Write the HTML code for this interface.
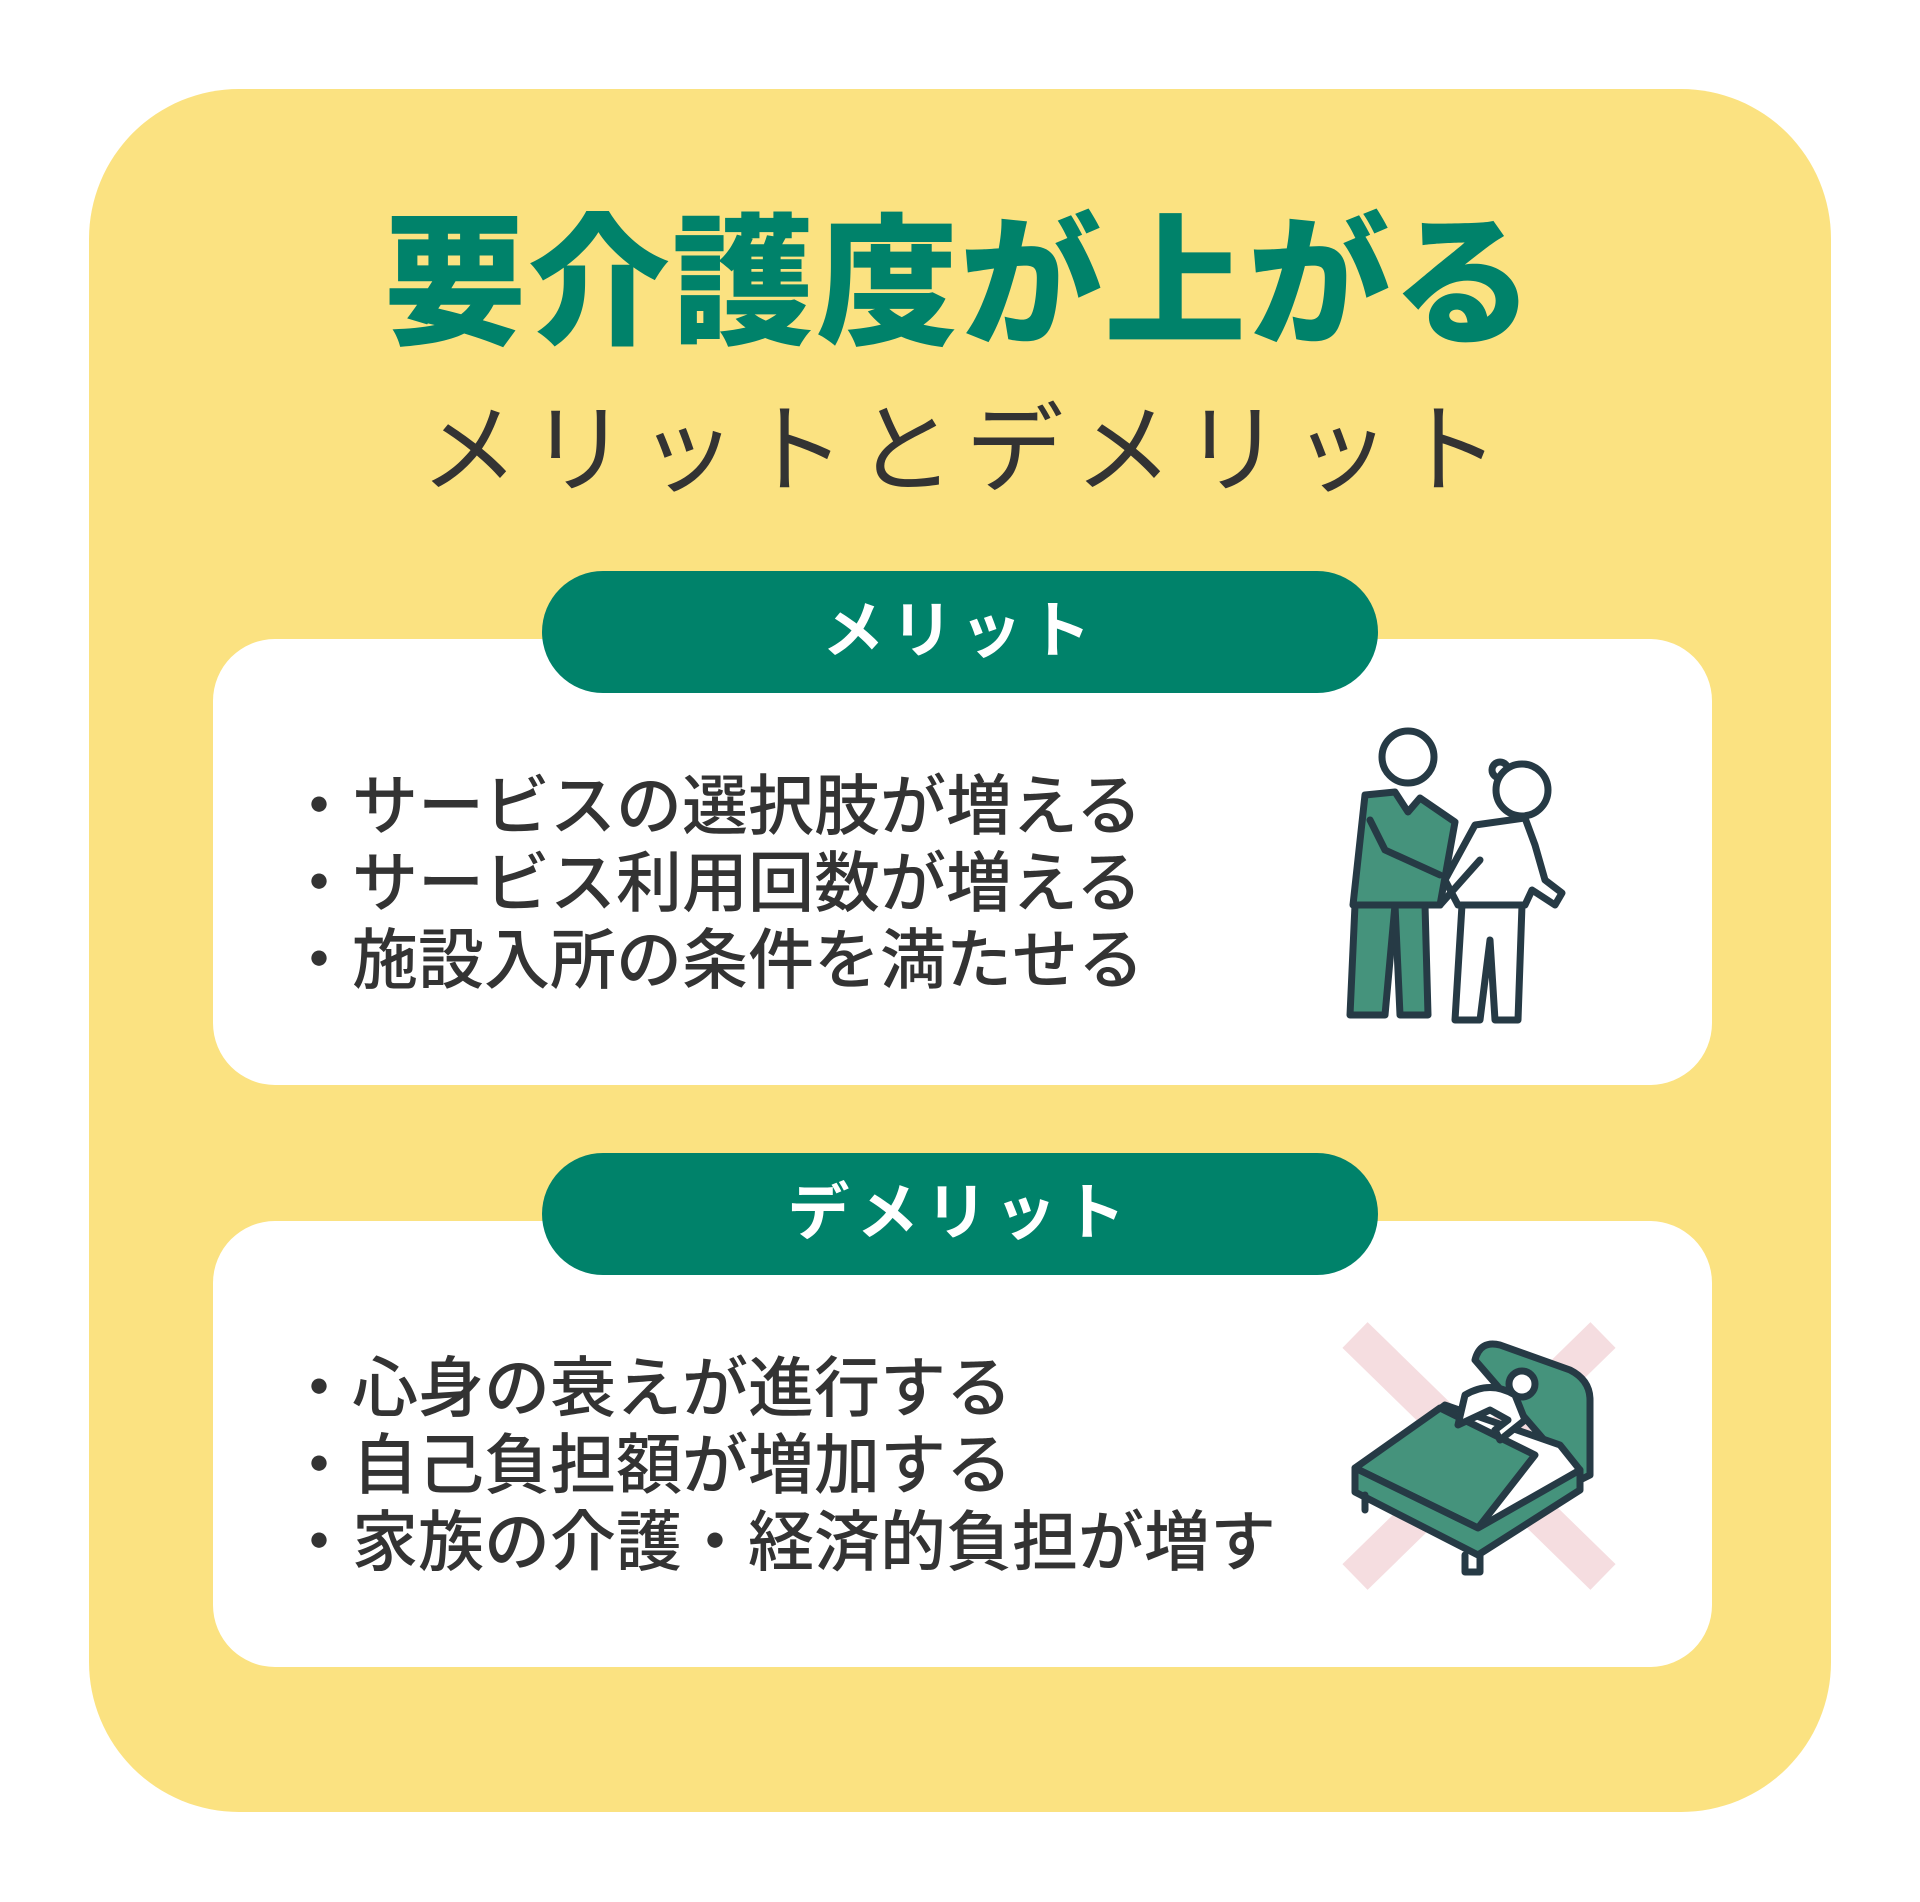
<!DOCTYPE html>
<html><head><meta charset="utf-8"><style>
html,body{margin:0;padding:0;background:#fff;}
body{width:1920px;height:1902px;position:relative;overflow:hidden;font-family:"Liberation Sans","Noto Sans CJK JP",sans-serif;}
.panel{position:absolute;left:89px;top:89px;width:1742px;height:1723px;background:#FBE281;border-radius:150px;}
.title{position:absolute;left:0;width:1920px;top:200px;text-align:center;font-size:142px;font-weight:900;color:#00826A;line-height:170px;letter-spacing:2px;}
.sub{position:absolute;left:0;width:1920px;top:390px;text-align:center;font-size:98px;font-weight:400;color:#333;line-height:120px;letter-spacing:11px;padding-left:11px;box-sizing:border-box;}
.box{position:absolute;left:213px;width:1499px;height:446px;background:#fff;border-radius:62px;}
.pill{position:absolute;left:542px;width:836px;height:122px;background:#00826A;border-radius:61px;color:#fff;text-align:center;font-size:62px;font-weight:600;line-height:122px;letter-spacing:7px;}
.list{position:absolute;left:286px;font-size:66px;font-weight:500;color:#333;line-height:77px;white-space:nowrap;}
</style></head><body>
<div class="panel"></div>
<div class="title">要介護度が上がる</div>
<div class="sub">メリットとデメリット</div>
<div class="box" style="top:639px"></div>
<div class="pill" style="top:571px">メリット</div>
<div class="list" style="top:768px">・サービスの選択肢が増える<br>・サービス利用回数が増える<br>・施設入所の条件を満たせる</div>
<div class="box" style="top:1221px"></div>
<div class="pill" style="top:1153px">デメリット</div>
<div class="list" style="top:1350px">・心身の衰えが進行する<br>・自己負担額が増加する<br>・家族の介護・経済的負担が増す</div>
<svg width="1920" height="1902" style="position:absolute;left:0;top:0" stroke="#263a45" stroke-width="7" stroke-linejoin="round" stroke-linecap="round">
 <circle cx="1408" cy="757" r="26" fill="#fff"/>
 <path d="M1365 795 L1395 792 L1408 812 L1420 798 L1455 822 L1440 905 L1353 905 Z" fill="#45937c"/>
 <path d="M1355 905 L1395 905 L1385 1015 L1350 1015 Z" fill="#45937c"/>
 <path d="M1395 905 L1425 905 L1428 1015 L1400 1015 Z" fill="#45937c"/>
 <path d="M1370 820 L1385 850 L1440 875" fill="none"/>
 <circle cx="1500" cy="770" r="8" fill="#fff"/>
 <circle cx="1522" cy="790" r="26" fill="#fff"/>
 <path d="M1475 825 L1525 818 L1535 845 L1545 880 L1562 893 L1555 905 L1532 890 L1525 905 L1458 905 L1445 880 Z" fill="#fff"/>
 <path d="M1462 905 L1522 905 L1518 1020 L1495 1020 L1490 940 L1480 1020 L1455 1020 Z" fill="#fff"/>
 <path d="M1480 860 L1440 905" fill="none"/>
 <g stroke="#F5DDE0" stroke-width="36" stroke-linecap="butt"><line x1="1355" y1="1335" x2="1603" y2="1577"/><line x1="1603" y1="1335" x2="1355" y2="1577"/></g>
 <path d="M1475 1360 Q1480 1340 1500 1345 L1570 1370 Q1590 1380 1590 1400 L1590 1475 L1580 1480 L1570 1470 Z" fill="#45937c"/>
 <path d="M1445 1405 L1560 1445 L1580 1470 L1480 1530 L1360 1470 Z" fill="#fff"/>
 <path d="M1355 1468 L1440 1408 L1535 1455 L1478 1528 Z" fill="#45937c"/>
 <path d="M1355 1468 L1355 1492 L1478 1555 L1580 1490 L1580 1470 L1478 1528 Z" fill="#45937c"/>
 <path d="M1365 1495 L1365 1510 M1465 1555 L1465 1572 L1480 1572 L1480 1555" fill="none"/>
 <circle cx="1522" cy="1384" r="13" fill="#fff"/>
 <path d="M1465 1395 Q1490 1380 1515 1395 L1525 1420 L1500 1440 L1495 1430 L1508 1420 L1490 1410 L1458 1425 Z" fill="#fff"/>
</svg>
</body></html>
